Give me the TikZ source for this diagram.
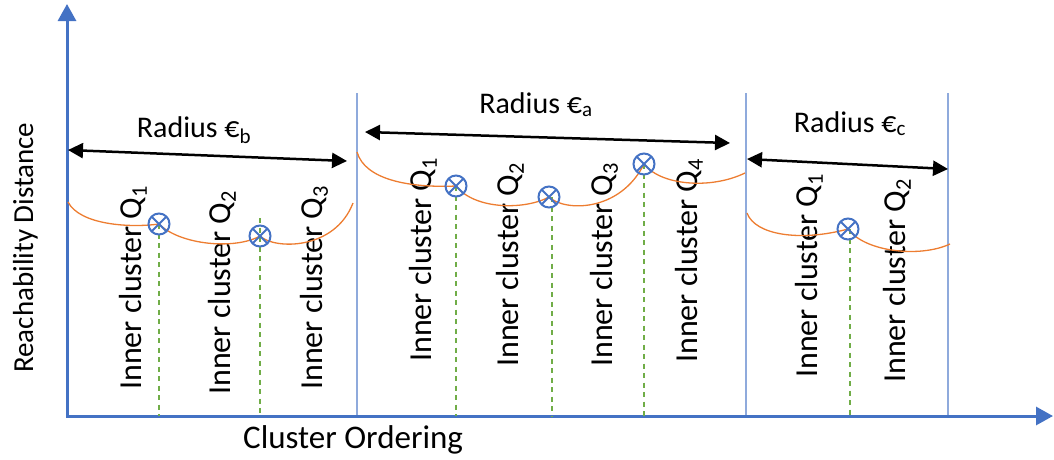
\documentclass[tikz,border=0pt]{standalone}
\usepackage{fontspec}
\setmainfont{Carlito}
\usetikzlibrary{arrows.meta}
\definecolor{axisblue}{HTML}{4472C4}
\definecolor{sepblue}{HTML}{8FAADC}
\definecolor{curveorange}{HTML}{ED7D31}
\definecolor{dashgreen}{HTML}{70AD47}
\begin{document}
\begin{tikzpicture}[x=1pt,y=-1pt,
  axis/.style={draw=axisblue,line width=3pt,-{Triangle[length=17pt,width=18pt]}},
  sepline/.style={draw=sepblue,line width=1.3pt},
  radarrow/.style={draw=black,line width=2.5pt,{Triangle[length=15pt,width=15pt]}-{Triangle[length=15pt,width=15pt]}},
  reach/.style={draw=curveorange,line width=1.3pt},
  guide/.style={draw=dashgreen,line width=1.8pt,dash pattern=on 5pt off 4.5pt},
  core/.style={circle,draw=axisblue,line width=2pt,minimum size=21pt,inner sep=0pt,
    path picture={\draw[axisblue,line width=2pt]
      (path picture bounding box.north west)--(path picture bounding box.south east)
      (path picture bounding box.north east)--(path picture bounding box.south west);}},
  inlabel/.style={rotate=90,anchor=base west,inner sep=0pt,font=\fontsize{32}{38}\selectfont},
  radlabel/.style={anchor=base,inner sep=0pt,font=\fontsize{30}{36}\selectfont},
  axlabel/.style={inner sep=0pt,font=\fontsize{29}{35}\selectfont},
]
\useasboundingbox (0,0) rectangle (1054,459);

% axes
\coordinate (O) at (67,416);
\coordinate (ytip) at (67,4);
\coordinate (xtip) at (1053,416);
\coordinate (ybase) at (67,417.5);

% separators
\coordinate (s1t) at (357,93);
\coordinate (s2t) at (746,93);
\coordinate (s3t) at (948,93);
\draw[sepline] (s1t) -- (s1t |- O);
\draw[sepline] (s2t) -- (s2t |- O);
\draw[sepline] (s3t) -- (s3t |- O);

\draw[axis] (ybase) -- (ytip);
\draw[axis] (O) -- (xtip);

% radius arrows
\coordinate (rb1) at (68,150);  \coordinate (rb2) at (347,161);
\coordinate (ra1) at (365,132); \coordinate (ra2) at (730,143);
\coordinate (rc1) at (747,159); \coordinate (rc2) at (948,169);
\draw[radarrow] (rb1) -- (rb2);
\draw[radarrow] (ra1) -- (ra2);
\draw[radarrow] (rc1) -- (rc2);

\node[radlabel] (tb) at (194,137) {Radius €\textsubscript{b}};
\node[radlabel] (ta) at (536,113) {Radius €\textsubscript{a}};
\node[radlabel] (tc) at (850,132) {Radius €\textsubscript{c}};

% core points
\coordinate (cb1) at (159,224);
\coordinate (cb2) at (260,236);
\coordinate (ca1) at (456,186);
\coordinate (ca2) at (549,197);
\coordinate (ca3) at (644,164);
\coordinate (cc1) at (848,229);
\coordinate (b0) at (68,202);   \coordinate (b3) at (353,203);
\coordinate (a0) at (357,152);  \coordinate (a4) at (745,173);
\coordinate (c0) at (747,213);  \coordinate (c2) at (950,244);

% labels
\node[inlabel] (lb1) at (141,390) {Inner cluster Q\textsubscript{1}};
\node[inlabel] (lb2) at (230,395) {Inner cluster Q\textsubscript{2}};
\node[inlabel] (lb3) at (322,390) {Inner cluster Q\textsubscript{3}};
\node[inlabel] (la1) at (431,362) {Inner cluster Q\textsubscript{1}};
\node[inlabel] (la2) at (518,367) {Inner cluster Q\textsubscript{2}};
\node[inlabel] (la3) at (612,367) {Inner cluster Q\textsubscript{3}};
\node[inlabel] (la4) at (697,363) {Inner cluster Q\textsubscript{4}};
\node[inlabel] (lc1) at (817,378) {Inner cluster Q\textsubscript{1}};
\node[inlabel] (lc2) at (905,383) {Inner cluster Q\textsubscript{2}};

% green guides
\draw[guide] ([yshift=18pt]cb2) -- (cb2 |- O);
\draw[guide] (cb1) -- (cb1 |- O);
\draw[guide] (ca1) -- (ca1 |- O);
\draw[guide] ([xshift=3pt]ca2) -- ([xshift=3pt]ca2 |- O);
\draw[guide] (ca3) -- (ca3 |- O);
\draw[guide] ([xshift=2pt]cc1) -- ([xshift=2pt]cc1 |- O);

% reachability curves
\draw[reach] (b0) .. controls (80,225) and (130,228) .. (cb1)
  .. controls (180,245) and (235,250) .. (cb2)
  .. controls (275,250) and (335,250) .. (b3);
\draw[reach] (a0) .. controls (365,180) and (410,188) .. (ca1)
  .. controls (475,210) and (525,210) .. (ca2)
  .. controls (565,212) and (620,212) .. (ca3)
  .. controls (660,185) and (710,190) .. (a4);
\draw[reach] (c0) .. controls (755,235) and (800,242) .. (cc1)
  .. controls (865,252) and (920,258) .. (c2);

\node[core] (nb1) at (cb1) {};
\node[core] (nb2) at (cb2) {};
\node[core] (na1) at (ca1) {};
\node[core] (na2) at (ca2) {};
\node[core] (na3) at (ca3) {};
\node[core] (nc1) at (cc1) {};

% axis labels
\node[axlabel,font=\fontsize{33}{40}\selectfont,anchor=base west] (xl) at (243,448) {Cluster Ordering};
\node[axlabel,rotate=90,anchor=base west] (yl) at (33,373) {Reachability Distance};
\end{tikzpicture}
\end{document}
